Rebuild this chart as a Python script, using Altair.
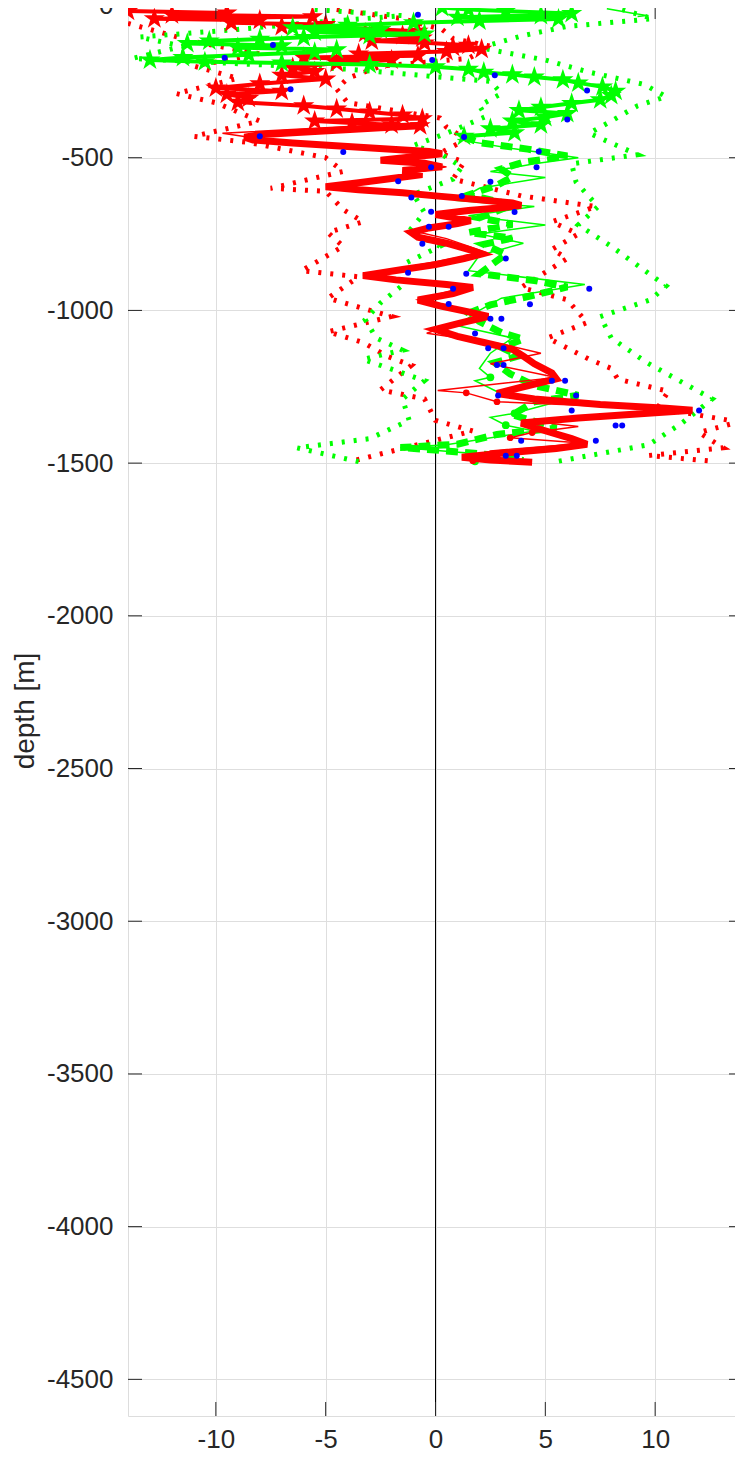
import altair as alt
import pandas as pd

# ---------------- data ----------------
x_ticks = [-10, -5, 0, 5, 10]
y_ticks = [0, -500, -1000, -1500, -2000, -2500, -3000, -3500, -4000, -4500]

# red profile with star markers (upper part)
red_star_x = [-14.0, -9.5, -12.0, -5.6, -12.8, -8.0, -9.3, -5.0, -7.0, -4.0, -2.5, -0.8, -3.2, -1.5, -0.6,
              -2.9, -0.5, 1.5, 0.8, 2.1, 0.5, -3.5, -0.8, -6.0, -2.0, -4.5, -6.5, -5.5, -7.0, -5.0,
              -8.0, -10.0, -7.0, -9.5, -8.5, -9.0, -6.0, -4.5, -3.0, -1.5, -0.6, -5.5, -3.8, -2.0, -0.7]
red_star_d = [-20, -26, -32, -38, -45, -50, -58, -64, -70, -75, -80, -86, -92, -100, -108,
              -118, -124, -132, -138, -145, -152, -160, -166, -172, -180, -190, -205, -218, -230, -242,
              -258, -272, -282, -292, -305, -318, -330, -340, -350, -360, -372, -380, -386, -392, -395]

# green profile with star markers (upper part)
green_star_x = [0.3, 1.5, 3.2, 6.2, 4.8, 1.0, 5.6, 2.0, -1.0, -4.0, -6.5, -2.5, -5.5, -0.5, -3.0,
                -6.0, -8.0, -10.3, -11.3, -7.0, -9.0, -4.5, -5.5, -8.5, -11.5, -13.0, -10.5, -7.0, -3.0, 0.0,
                1.5, 2.2, 3.5, 4.5, 5.8, 6.5, 7.6, 8.2, 8.0, 7.5, 6.2, 4.8, 3.8, 6.0, 5.0,
                3.5, 4.8, 2.5, 3.6, 1.3]
green_star_d = [-8, -15, -20, -28, -34, -40, -46, -52, -58, -66, -74, -80, -88, -95, -100,
                -106, -112, -118, -126, -133, -140, -146, -155, -163, -172, -180, -186, -190, -195, -202,
                -210, -220, -228, -236, -245, -255, -268, -282, -296, -310, -322, -335, -345, -355, -368,
                -380, -392, -405, -418, -430]

# thick red profile (lower part)
red_thick_x = [-0.7, -2.5, -4.5, -6.5, -8.0, -8.7, -8.3, -6.5, -4.0, -2.0, -0.3, 0.3, -1.0, -2.5, -0.5,
               0.3, -1.5, -0.6, -2.0, -3.5, -5.0, -3.5, -1.5, 0.0, 2.0, 3.5, 3.9, 3.0, 1.5, 0.0,
               1.6, 1.0, -0.3, -1.1, -0.8, 0.5, 1.5, 2.1, 1.3, 0.0, -1.5, -3.3, -1.8, 0.5, 1.7,
               0.8, -0.8, 0.2, 1.5, 2.4, 1.2, 0.0, 1.0, 2.2, 3.5, 4.0, 4.5, 5.3, 5.5, 4.0,
               2.8, 4.5, 7.5, 10.5, 11.7, 10.0, 6.5, 3.9, 4.8, 6.2, 6.9, 5.5, 3.0, 1.2, 2.5,
               4.4]
red_thick_d = [-395, -402, -410, -418, -425, -433, -442, -452, -463, -472, -480, -487, -497, -508, -518,
               -530, -542, -555, -568, -582, -595, -605, -615, -625, -638, -648, -656, -664, -673, -686,
               -706, -716, -730, -745, -760, -780, -800, -815, -830, -850, -866, -886, -900, -915, -925,
               -945, -966, -985, -1005, -1020, -1040, -1062, -1085, -1105, -1127, -1150, -1175, -1205, -1224, -1250,
               -1272, -1290, -1308, -1320, -1327, -1335, -1352, -1369, -1390, -1420, -1438, -1452, -1468, -1481, -1490,
               -1497]

# thin red line
red_thin_x = [-0.5, -9.7, -6.0, 0.3, -1.5, 0.5, -1.8, -4.5, 0.0, 3.6, 0.5, 1.5, -1.0, 0.5, 2.3,
              -3.3, 1.5, -0.8, 2.0, -0.4, 3.0, 4.8, 2.5, 5.5, 0.1, 1.4, 2.8, 11.5, 4.0, 6.5,
              4.4, 3.4, 6.8, 2.5, 1.7]
red_thin_d = [-385, -420, -460, -480, -505, -530, -560, -595, -630, -650, -680, -705, -740, -765, -810,
              -885, -920, -965, -1015, -1075, -1110, -1140, -1175, -1220, -1262, -1270, -1299, -1325, -1360, -1380,
              -1400, -1417, -1435, -1460, -1492]
red_dot_x = [1.4, 2.8, 4.4, 3.4, 1.7]
red_dot_d = [-1270, -1299, -1400, -1417, -1492]

# thick dashed green profile (lower part)
green_dash_x = [1.3, 2.0, 4.2, 6.0, 4.0, 3.0, 3.5, 2.8, 1.5, 3.5, 2.0, 3.5, 1.5, 3.5, 2.2,
                3.2, 2.6, 2.0, 4.5, 6.0, 4.5, 2.5, 1.5, 2.0, 3.0, 4.0, 3.0, 3.8, 2.7, 3.4,
                4.5, 6.5, 4.5, 3.5, 5.5, 2.8, 1.0, -1.6, 0.5, 3.0, 4.0]
green_dash_d = [-430, -451, -472, -494, -515, -537, -563, -590, -622, -654, -697, -718, -745, -763, -784,
                -816, -848, -880, -902, -923, -950, -982, -1009, -1036, -1073, -1094, -1121, -1149, -1171, -1208,
                -1246, -1278, -1299, -1342, -1385, -1406, -1438, -1449, -1460, -1476, -1492]

# thin green line
green_thin_x = [1.0, 3.5, 6.5, 4.5, 2.5, 5.0, 2.0, 1.0, 4.5, 1.5, 5.0, 2.0, 4.0, 2.0, 1.5,
                6.8, 3.0, 2.0, 1.0, 3.5, 2.5, 2.0, 2.5, 1.8, 3.2, 5.5, 3.6, 2.5, 3.2, 4.5,
                0.5, -1.6, 2.0, 1.8]
green_thin_d = [-440, -470, -500, -520, -545, -565, -600, -640, -660, -690, -720, -750, -780, -820, -870,
                -915, -960, -1000, -1050, -1090, -1140, -1190, -1219, -1230, -1280, -1300, -1337, -1350, -1376, -1395,
                -1440, -1449, -1470, -1494]
green_dot_x = [2.5, 3.6, 3.2, 1.8]
green_dot_d = [-1219, -1337, -1376, -1494]
green_top_x = [7.8, 8.4, 8.9, 9.6, 9.2]
green_top_d = [-12, -20, -26, -34, -38]

# dotted envelopes
red_lo_x = [-14.0, -14.0, -11.0, -8.0, -11.0, -9.0, -11.8, -10.0, -8.0, -11.0, -8.5, -5.0, -4.2, -7.5, -5.0,
            -4.2, -3.3, -4.9, -4.2, -6.1, -3.5, -4.9, -2.0, -4.9, -3.3, -2.2, -1.1, -2.5, -0.5, 0.0,
            1.7, -2.5, -3.6]
red_lo_d = [-20, -60, -120, -160, -200, -240, -290, -320, -380, -430, -450, -500, -545, -600, -610,
            -670, -710, -745, -790, -870, -890, -960, -1020, -1070, -1105, -1150, -1180, -1260, -1290, -1360,
            -1395, -1470, -1490]
red_hi_x = [-4.5, -1.5, 0.3, 0.8, 2.5, 1.5, -2.5, -4.0, -4.5, -4.0, 0.2, 0.5, 1.4, 0.2, 1.3,
            0.8, 3.9, 7.3, 5.3, 6.5, 5.3, 6.0, 3.9, 6.0, 6.9, 5.1, 7.0, 8.0, 8.3, 10.6,
            10.1, 13.8, 12.0, 13.1, 9.7, 12.8]
red_hi_d = [-15, -45, -80, -110, -135, -175, -200, -240, -275, -320, -370, -400, -440, -485, -515,
            -570, -625, -660, -710, -750, -800, -830, -925, -965, -1040, -1090, -1160, -1190, -1225, -1265,
            -1320, -1365, -1400, -1450, -1475, -1495]
green_lo_x = [-5.5, -1.5, -6.0, -9.0, -13.5, -11.5, -13.8, -4.0, 2.5, 3.0, 2.0, 2.3, 0.5, -1.0, 0.3,
              1.2, 0.8, -1.0, -0.5, -1.2, 0.2, -1.5, -1.2, -2.5, -3.2, -2.7, -1.5, -3.3, -0.5, -1.5,
              -1.2, -3.0, -6.3, -3.5]
green_lo_d = [-15, -35, -60, -80, -105, -135, -175, -210, -250, -290, -330, -365, -420, -460, -490,
              -530, -570, -620, -680, -740, -790, -850, -900, -975, -1030, -1090, -1130, -1160, -1230, -1290,
              -1360, -1420, -1450, -1495]
green_hi_x = [8.5, 9.9, 6.0, 4.0, 2.0, 5.0, 7.0, 9.5, 10.5, 9.2, 8.0, 7.0, 9.2, 6.2, 6.4,
              7.4, 6.5, 8.0, 10.5, 9.8, 7.5, 8.0, 9.6, 12.6, 11.2, 9.7, 5.5]
green_hi_d = [-15, -45, -70, -100, -140, -180, -220, -260, -300, -330, -380, -420, -490, -520, -580,
              -660, -720, -790, -920, -965, -1020, -1090, -1170, -1290, -1370, -1440, -1495]

# blue dots
blue_x = [-0.8, -7.4, -9.6, -0.15, 2.7, -6.6, 6.9, 6.0, -8.0, 1.3, -4.2, 4.7, -0.2, 4.6, -1.7,
          2.5, -1.1, 1.2, -0.2, 3.6, -0.3, 0.6, -0.6, 3.2, -1.25, 1.4, 0.8, 7.0, 0.6, 4.3,
          2.5, 3.0, 1.8, 2.4, 3.1, 2.8, 3.1, 5.3, 5.9, 2.85, 6.4, 6.2, 12.0, 8.2, 8.5,
          3.9, 7.3, 3.2, 3.7]
blue_d = [-32, -131, -173, -180, -230, -276, -280, -375, -430, -432, -481, -480, -531, -531, -577,
          -579, -630, -625, -677, -678, -726, -726, -782, -830, -877, -880, -929, -929, -979, -980,
          -1027, -1027, -1076, -1124, -1124, -1179, -1179, -1230, -1230, -1279, -1279, -1328, -1328, -1377, -1377,
          -1427, -1427, -1476, -1476]

# ---------------- chart ----------------
W, H = 615, 1411
FONT = "Liberation Sans"
AX = "#262626"
xscale = alt.Scale(domain=[-14, 14], nice=False, zero=False)
yscale = alt.Scale(domain=[-4620, 0], nice=False, zero=False)
xaxis = alt.Axis(values=x_ticks, title=None, labelFont=FONT, labelFontSize=26, labelColor=AX,
                 tickSize=0, domain=False, grid=True, gridColor="#dedede", labelPadding=10,
                 labelExpr="'' + datum.value")
yaxis = alt.Axis(values=y_ticks, title="depth [m]", labelFont=FONT, labelFontSize=26, labelColor=AX,
                 titleFont=FONT, titleFontSize=28, titleFontWeight="normal", titleColor=AX,
                 tickSize=0, domain=False, grid=True, gridColor="#dedede", labelPadding=15,
                 titlePadding=7, labelExpr="'' + datum.value")


def X(f="x"):
    return alt.X(f"{f}:Q", scale=xscale, axis=xaxis)


def Y(f="d"):
    return alt.Y(f"{f}:Q", scale=yscale, axis=yaxis)


def df(xs, ds):
    return pd.DataFrame({"x": xs, "d": ds, "i": list(range(len(xs)))})


def line(xs, ds, color, width, dash=None):
    kw = dict(color=color, strokeWidth=width, clip=True, strokeJoin="miter")
    if dash is not None:
        kw["strokeDash"] = dash
        kw["strokeCap"] = "butt"
    return alt.Chart(df(xs, ds)).mark_line(**kw).encode(x=X(), y=Y(), order="i:Q")


STAR = ("M0,-1L0.2245,-0.309L0.951,-0.309L0.363,0.118L0.588,0.809L0,0.382"
        "L-0.588,0.809L-0.363,0.118L-0.951,-0.309L-0.2245,-0.309Z")


def pts(xs, ds, color, shape, size):
    return alt.Chart(df(xs, ds)).mark_point(shape=shape, size=size, filled=True, color=color,
                                            opacity=1, clip=True).encode(x=X(), y=Y())


zero = alt.Chart(pd.DataFrame({"x": [0]})).mark_rule(color="black", strokeWidth=1).encode(x=X())

RED, GREEN, BLUE = "#ff0000", "#00ff00", "#0000ff"
DOT = [3, 9]

layers = [
    zero,
    line(red_lo_x, red_lo_d, RED, 5, DOT),
    line(red_hi_x, red_hi_d, RED, 5, DOT),
    line(green_lo_x, green_lo_d, GREEN, 5, DOT),
    line(green_hi_x, green_hi_d, GREEN, 5, DOT),
    line(green_dash_x, green_dash_d, GREEN, 7, [12, 7]),
    line(green_thin_x, green_thin_d, GREEN, 1.5),
    pts(green_dot_x, green_dot_d, GREEN, "circle", 60),
    line(green_top_x, green_top_d, GREEN, 1.5),
    line(red_thick_x, red_thick_d, RED, 7),
    line(red_thin_x, red_thin_d, RED, 1.5),
    pts(red_dot_x, red_dot_d, RED, "circle", 45),
    line(red_star_x, red_star_d, RED, 4),
    pts(red_star_x, red_star_d, RED, STAR, 500),
    line(green_star_x, green_star_d, GREEN, 4),
    pts(green_star_x, green_star_d, GREEN, STAR, 500),
    pts(blue_x, blue_d, BLUE, "circle", 36),
]

# inward ticks (MATLAB style)
xt = pd.DataFrame({"x": x_ticks})
yt = pd.DataFrame({"d": y_ticks})
layers += [
    alt.Chart(xt).mark_rule(color=AX).encode(x=X(), y=alt.value(H), y2=alt.value(H - 14)),
    alt.Chart(xt).mark_rule(color=AX).encode(x=X(), y=alt.value(0), y2=alt.value(14)),
    alt.Chart(yt).mark_rule(color=AX).encode(y=Y(), x=alt.value(0), x2=alt.value(14)),
    alt.Chart(yt).mark_rule(color=AX).encode(y=Y(), x=alt.value(W - 14), x2=alt.value(W)),
]

# svg 727 x 1444 so the 743x1460 page (8px body margins) does not overflow
chart = alt.layer(*layers).properties(
    width=W, height=H, autosize="none",
    padding={"left": 120, "top": -3, "right": -8, "bottom": 36},
).configure_view(stroke=AX, strokeWidth=1.2).configure(background="white")

chart.save("out.html", embed_options={"renderer": "svg", "actions": False})
